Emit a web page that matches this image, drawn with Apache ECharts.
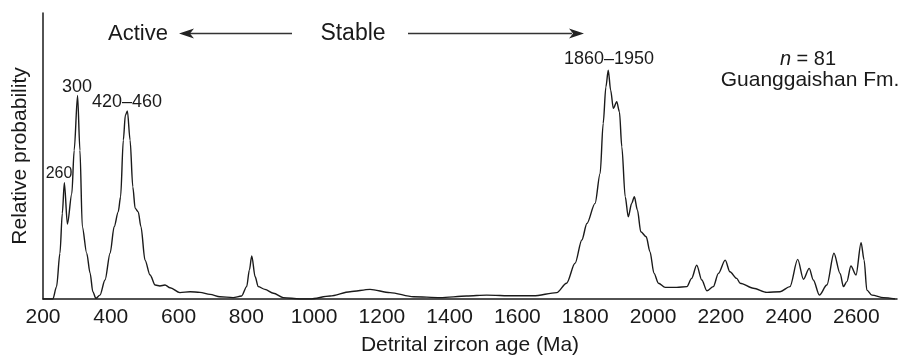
<!DOCTYPE html>
<html>
<head>
<meta charset="utf-8">
<script src="https://cdn.jsdelivr.net/npm/echarts@6/dist/echarts.min.js"></script>
<style>
  html, body { margin: 0; padding: 0; background: #fff; }
  #chart { width: 900px; height: 356px; }
</style>
</head>
<body>
<div id="chart"></div>
<script>
// detrital zircon ages (Ma) and relative probability (tallest peak = 1)
var ages = [200, 229, 240, 250, 257, 263, 272, 285, 292, 302, 309, 316, 329, 339, 347, 356, 368, 383, 398, 410, 422, 429, 437, 443, 449, 457, 465, 472, 481, 489, 501, 516, 531, 545, 560, 575, 604, 634, 663, 693, 722, 761, 786, 801, 809, 816, 826, 835, 855, 880, 909, 958, 988, 1047, 1106, 1165, 1224, 1293, 1372, 1450, 1509, 1588, 1647, 1716, 1745, 1770, 1790, 1805, 1829, 1844, 1853, 1861, 1868, 1875, 1883, 1893, 1901, 1908, 1918, 1927, 1937, 1945, 1954, 1964, 1980, 1991, 2003, 2016, 2036, 2070, 2100, 2114, 2129, 2144, 2159, 2178, 2193, 2213, 2227, 2247, 2257, 2296, 2336, 2375, 2404, 2427, 2444, 2461, 2473, 2491, 2513, 2534, 2552, 2562, 2572, 2584, 2599, 2614, 2623, 2631, 2646, 2680, 2714];
var probs = [0, 0, 0.054, 0.20, 0.375, 0.508, 0.328, 0.46, 0.65, 0.89, 0.65, 0.316, 0.20, 0.113, 0.032, 0.003, 0.017, 0.083, 0.20, 0.316, 0.381, 0.447, 0.694, 0.803, 0.822, 0.694, 0.49, 0.396, 0.381, 0.316, 0.17, 0.105, 0.061, 0.057, 0.061, 0.049, 0.028, 0.032, 0.029, 0.02, 0.01, 0.006, 0.013, 0.054, 0.127, 0.188, 0.097, 0.054, 0.042, 0.025, 0.006, 0, 0, 0.013, 0.032, 0.042, 0.028, 0.01, 0.006, 0.013, 0.017, 0.014, 0.014, 0.028, 0.069, 0.156, 0.258, 0.33, 0.418, 0.549, 0.767, 0.927, 1.0, 0.913, 0.833, 0.862, 0.818, 0.665, 0.447, 0.359, 0.418, 0.447, 0.389, 0.294, 0.272, 0.207, 0.112, 0.069, 0.051, 0.051, 0.054, 0.09, 0.148, 0.083, 0.036, 0.054, 0.112, 0.17, 0.119, 0.09, 0.069, 0.047, 0.029, 0.032, 0.054, 0.173, 0.086, 0.134, 0.083, 0.017, 0.061, 0.2, 0.112, 0.054, 0.076, 0.144, 0.105, 0.246, 0.17, 0.039, 0.017, 0.006, 0];
var xTicks = [200, 400, 600, 800, 1000, 1200, 1400, 1600, 1800, 2000, 2200, 2400, 2600];

var font = "'Liberation Sans', Arial, Helvetica, sans-serif";
var ink = '#1a1a1a';

var curve = ages.map(function (a, i) { return [a, probs[i]]; });

var chart = echarts.init(document.getElementById('chart'));

// centred text label at pixel x, y
function txt(x, y, text, size) {
  return {
    type: 'text', x: x, y: y,
    style: { text: text, fontSize: size, fontFamily: font, fill: ink,
             align: 'center', verticalAlign: 'middle' }
  };
}

chart.setOption({
  animation: false,
  grid: { left: 43, right: 3, top: 13, bottom: 57, outerBoundsMode: 'none', containLabel: false },
  xAxis: {
    type: 'value', min: 200, max: 2720, interval: 200,
    name: 'Detrital zircon age (Ma)', nameLocation: 'middle', nameGap: 36,
    nameTextStyle: { fontSize: 21, fontFamily: font, color: ink },
    axisLine: { lineStyle: { color: ink, width: 1.5 } },
    axisTick: { show: false },
    splitLine: { show: false },
    axisLabel: {
      fontSize: 21, fontFamily: font, color: ink, margin: 8,
      showMaxLabel: false,
      formatter: function (v) { return xTicks.indexOf(v) >= 0 ? String(v) : ''; }
    }
  },
  yAxis: {
    type: 'value', min: 0, max: 1.25,
    name: 'Relative probability', nameLocation: 'middle', nameGap: 12,
    nameTextStyle: { fontSize: 21, fontFamily: font, color: ink },
    axisLine: { show: true, lineStyle: { color: ink, width: 1.5 } },
    axisTick: { show: false },
    axisLabel: { show: false },
    splitLine: { show: false }
  },
  series: [{
    type: 'line',
    data: curve,
    showSymbol: false,
    smooth: 0.3,
    smoothMonotone: 'x',
    lineStyle: { color: ink, width: 1.4 }
  }],
  graphic: [
    // "Active" with arrow to the left
    txt(138, 34, 'Active', 22),
    { type: 'line', shape: { x1: 190, y1: 33.5, x2: 292, y2: 33.5 },
      style: { stroke: '#333', lineWidth: 1.3 } },
    { type: 'polygon', shape: { points: [[179, 33.5], [194, 28.5], [190, 33.5], [194, 38.5]] },
      style: { fill: '#222' } },
    // "Stable" with arrow to the right
    txt(353, 34, 'Stable', 23),
    { type: 'line', shape: { x1: 408, y1: 33.5, x2: 572, y2: 33.5 },
      style: { stroke: '#333', lineWidth: 1.3 } },
    { type: 'polygon', shape: { points: [[584, 33.5], [569, 28.5], [573, 33.5], [569, 38.5]] },
      style: { fill: '#222' } },
    // peak labels
    txt(59, 174, '260', 16),
    txt(77, 87, '300', 18),
    txt(127, 102, '420–460', 18),
    txt(609, 59, '1860–1950', 18),
    // sample info
    {
      type: 'text', x: 808, y: 59,
      style: {
        text: '{i|n}{r| = 81}', fontSize: 20, fontFamily: font, fill: ink,
        align: 'center', verticalAlign: 'middle',
        rich: {
          i: { fontStyle: 'italic', fontSize: 20, fontFamily: font, fill: ink },
          r: { fontSize: 20, fontFamily: font, fill: ink }
        }
      }
    },
    txt(810, 80, 'Guanggaishan Fm.', 21)
  ]
});
</script>
</body>
</html>
